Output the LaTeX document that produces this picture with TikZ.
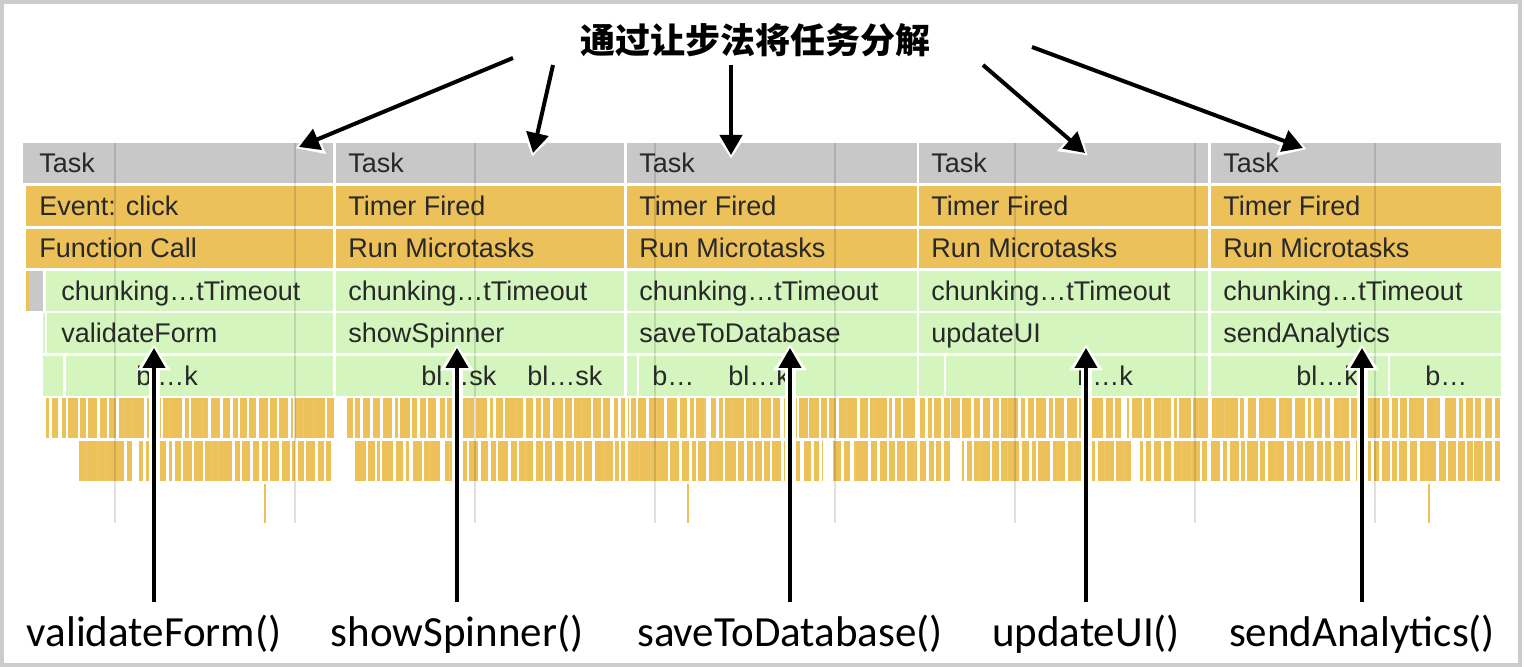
\documentclass[tikz,border=0pt]{standalone}
\usepackage{fontspec}
\setmainfont{Liberation Sans}
\newfontfamily\labfont{Carlito}
\newfontfamily\cjk{Noto Sans CJK SC}
\usepackage{xcolor}
\definecolor{Gry}{RGB}{200,200,200}
\definecolor{Org}{RGB}{236,193,90}
\definecolor{Grn}{RGB}{212,246,190}
\definecolor{Txt}{RGB}{40,40,40}
\definecolor{Frm}{RGB}{204,204,204}
\usepackage{tikz}
\usetikzlibrary{arrows.meta}
\tikzstyle{Cell}=[anchor=base west,inner sep=0pt,text=Txt,
font=\fontsize{13.5}{15}\selectfont]
\tikzstyle{Call}=[anchor=base,inner sep=6pt,
font=\labfont\fontsize{21.5}{25}\selectfont]
\tikzstyle{Title}=[inner sep=2pt,font=\cjk\bfseries\fontsize{17.5}{20}\selectfont]
\tikzstyle{Arrow}=[line width=2pt,-{Triangle[length=10pt,width=11pt]},
preaction={draw=white,line width=5.5pt,shorten >=-1.8pt,
-{Triangle[length=13pt,width=16pt]}}]
\tikzstyle{Grid}=[draw=black,opacity=.12,line width=.8pt]

\begin{document}
\begin{tikzpicture}[x=.5pt,y=-.5pt]
            \useasboundingbox(0,0)rectangle(1524,667);
            \draw[Frm,line width=2pt](2,2)rectangle(1520,665);
            \fill[Gry](23,143)rectangle(333,183);
            \fill[Org](26,186)rectangle(333,226);
            \fill[Org](26,229)rectangle(333,268);
            \fill[Org](26,271)rectangle(29,311);
            \fill[Gry](29,271)rectangle(43,311);
            \fill[Grn](46,271)rectangle(333,311);
            \fill[Grn](43,313)rectangle(45,353);
            \fill[Grn](47,313)rectangle(333,353);
            \fill[Grn](43,356)rectangle(63,396);
            \fill[Grn](66,356)rectangle(333,396);
            \foreach \a/\b in {336/624,627/917,919/1208,1211/1501}{
                \fill[Gry](\a,143)rectangle(\b,183);
                \fill[Org](\a,186)rectangle(\b,226);
                \fill[Org](\a,229)rectangle(\b,268);
                \fill[Grn](\a,271)rectangle(\b,311);
                \fill[Grn](\a,313)rectangle(\b,353);
                \fill[Grn](\a,356)rectangle(\b,396);
            }
            \foreach \x in {637,944,1388}
                \fill[white](\x,356)rectangle(\x+2,396);
            \fill[Org](46,398)rectangle(334,438);
            \fill[Org](347,398)rectangle(1500,438);
            \fill[Org](76,441)rectangle(331,481);
            \fill[Org](353,441)rectangle(1500,481);
            \pgfmathsetseed{11}
            \foreach \k in {0,...,153}{
                \pgfmathsetmacro\xa{46+9.5*\k+5*rnd}
                \pgfmathsetmacro\wa{rnd<.2 ? 0 : 1.8+1.6*rnd}
                \fill[white](\xa,397)rectangle(\xa+\wa,439);
            }
            \foreach \k in {0,...,150}{
                \pgfmathsetmacro\xa{76+9.5*\k+5*rnd}
                \pgfmathsetmacro\wa{rnd<.2 ? 0 : 1.8+1.6*rnd}
                \fill[white](\xa,440)rectangle(\xa+\wa,482);
            }
            \foreach \x/\w in {58/4,182/3,706/5,1121/6,1440/5}
                \fill[white](\x,397)rectangle(\x+\w,439);
            \foreach \x/\w in {132/4,440/5,823/10,950/12,1132/8,1350/6}
                \fill[white](\x,440)rectangle(\x+\w,482);
            \foreach \x in {625,917,1208}
                \fill[white](\x,397)rectangle(\x+3,482);
            \foreach \x in {265,688,1429}
                \fill[Org](\x-1,484)rectangle(\x+1,523);
            \foreach \k in {0,...,7}
                \draw[Grid](115+180*\k,143)--(115+180*\k,523);
            \node[Cell](t1)at(39,173){Task};
            \node[Cell](e1)at(39,216){Event: click};
            \node[Cell](f1)at(39,258){Function Call};
            \node[Cell](c1)at(61,301){chunking…tTimeout};
            \node[Cell](v1)at(61,343){validateForm};
            \foreach \n/\x/\fn in {2/348/showSpinner,3/639/saveToDatabase,
                4/931/updateUI,5/1223/sendAnalytics}{
                \node[Cell](t\n)at(\x,173){Task};
                \node[Cell](e\n)at(\x,216){Timer Fired};
                \node[Cell](f\n)at(\x,258){Run Microtasks};
                \node[Cell](c\n)at(\x,301){chunking…tTimeout};
                \node[Cell](v\n)at(\x,343){\fn};
            }
            \node[Cell](b1)at(136,386){bl…k};
            \node[Cell](b2)at(421,386){bl…sk};
            \node[Cell](b2a)at(527,386){bl…sk};
            \node[Cell](b3)at(652,386){b…};
            \node[Cell](b3a)at(728,386){bl…k};
            \node[Cell](b4)at(1077,386){b…k};
            \node[Cell](b5)at(1296,386){bl…k};
            \node[Cell](b5a)at(1425,386){b…};
            \node[Title](ttl)at(755,40){通过让步法将任务分解};
            \node[Call](l1)at(154,646){validateForm()};
            \node[Call](l2)at(457,646){showSpinner()};
            \node[Call](l3)at(790,646){saveToDatabase()};
            \node[Call](l4)at(1086,646){updateUI()};
            \node[Call](l5)at(1362,646){sendAnalytics()};
            \coordinate(s1)at(513,58);
            \coordinate(s2)at(553,65);
            \coordinate(s3)at(731,65);
            \coordinate(s4)at(983,65);
            \coordinate(s5)at(1032,47);
            \coordinate(p1)at(299,147);
            \coordinate(p2)at(533,153);
            \coordinate(p3)at(731,155);
            \coordinate(p4)at(1085,153);
            \coordinate(p5)at(1303,148);
            \foreach \n in {1,...,5}{
                \draw[Arrow](s\n)--(p\n);
                \coordinate(u\n)at(l\n.north|-0,348);
                \draw[Arrow](l\n.north)--(u\n);
            }
        \end{tikzpicture}
\end{document}
